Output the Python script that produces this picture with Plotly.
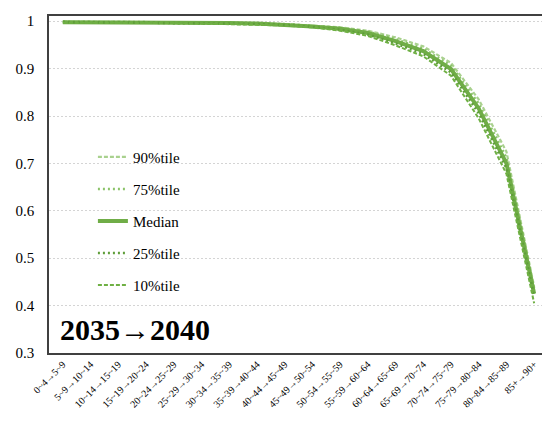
import plotly.graph_objects as go

categories = ["0~4→5~9", "5~9→10~14", "10~14→15~19", "15~19→20~24", "20~24→25~29",
              "25~29→30~34", "30~34→35~39", "35~39→40~44", "40~44→45~49", "45~49→50~54",
              "50~54→55~59", "55~59→60~64", "60~64→65~69", "65~69→70~74", "70~74→75~79",
              "75~79→80~84", "80~84→85~89", "85+→90+"]

p90 = [0.999, 0.999, 0.999, 0.998, 0.998, 0.997, 0.997, 0.996, 0.994, 0.991, 0.987, 0.980, 0.966, 0.947, 0.912, 0.835, 0.725, 0.440]
p75 = [0.999, 0.998, 0.998, 0.998, 0.997, 0.997, 0.996, 0.995, 0.994, 0.990, 0.986, 0.978, 0.962, 0.942, 0.906, 0.826, 0.712, 0.435]
median = [0.998, 0.998, 0.998, 0.997, 0.997, 0.996, 0.996, 0.995, 0.993, 0.989, 0.984, 0.975, 0.958, 0.937, 0.899, 0.816, 0.700, 0.425]
p25 = [0.998, 0.998, 0.997, 0.997, 0.996, 0.996, 0.995, 0.994, 0.992, 0.988, 0.982, 0.972, 0.953, 0.931, 0.892, 0.806, 0.690, 0.420]
p10 = [0.997, 0.997, 0.997, 0.996, 0.996, 0.995, 0.994, 0.993, 0.991, 0.987, 0.980, 0.969, 0.949, 0.926, 0.885, 0.795, 0.678, 0.405]

series = [
    ("90%tile", p90, "#a9d18e", "4px,2px", 2.2),
    ("75%tile", p75, "#8cc36a", "2px,3px", 2.6),
    ("Median", median, "#70ad47", "solid", 4),
    ("25%tile", p25, "#5f9e3a", "2px,3px", 2.6),
    ("10%tile", p10, "#6fb044", "4px,2px", 2),
]

fig = go.Figure()
for i, (name, vals, color, dash, w) in enumerate(series):
    fig.add_trace(go.Scatter(
        x=categories, y=vals, mode="lines", name=name,
        legendgroup=str(i),
        line=dict(color=color, dash=dash, width=w),
    ))

font = "Liberation Serif"
# page body has an 8px margin, so the figure is 8px smaller than the window
fig.update_layout(
    width=542, height=413,
    margin=dict(l=41, r=0, t=8, b=68),
    paper_bgcolor="white", plot_bgcolor="white",
    font=dict(family=font, color="black"),
    legend=dict(
        x=0.088, y=0.63, xanchor="left", yanchor="top",
        font=dict(size=15, family=font, color="black"),
        tracegroupgap=9.5,
        bgcolor="rgba(0,0,0,0)",
    ),
    annotations=[dict(
        text="<b>2035→2040</b>", x=0.018, y=0.015, xref="paper", yref="paper",
        xanchor="left", yanchor="bottom", showarrow=False,
        font=dict(size=30, family=font, color="black"),
    )],
)
fig.update_xaxes(
    range=[-0.5, 17.5], tickangle=-45,
    tickfont=dict(size=10, family=font, color="black"),
    showline=True, linecolor="#404040", linewidth=1.5, mirror=True,
    showgrid=False, ticks="",
)
fig.update_yaxes(
    range=[0.3, 1.011], tickvals=[0.3, 0.4, 0.5, 0.6, 0.7, 0.8, 0.9, 1.0],
    ticktext=["0.3", "0.4", "0.5", "0.6", "0.7", "0.8", "0.9", "1"],
    tickfont=dict(size=15, family=font, color="black"), ticklabelstandoff=10,
    showline=True, linecolor="#404040", linewidth=1.5, mirror=True,
    showgrid=True, gridcolor="#d4d4d4", griddash="2px,2px", gridwidth=1,
    zeroline=False, ticks="",
)

fig.write_html("out.html")
